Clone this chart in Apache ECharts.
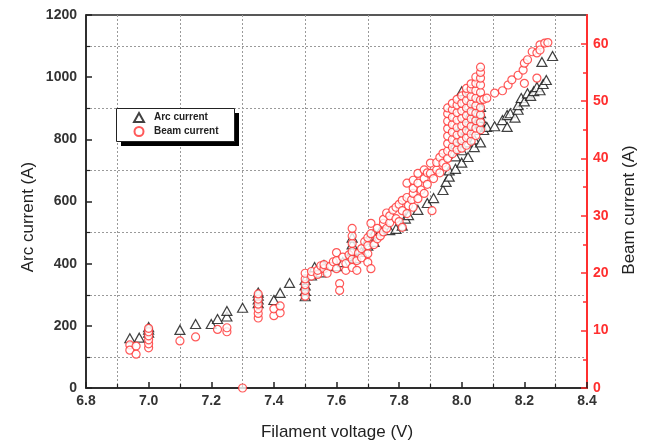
<!DOCTYPE html>
<html><head><meta charset="utf-8">
<script src="https://cdn.jsdelivr.net/npm/echarts@6/dist/echarts.min.js"></script>
<style>html,body{margin:0;padding:0;background:#fff}#c{width:648px;height:444px}</style>
</head><body><div id="c"></div>
<script>
// Axis ranges / ticks
const xRange = [6.8, 8.4], xStep = 0.2;
const arcRange = [0, 1200], arcStep = 200;
const beamRange = [0, 65];
const beamTickLabels = [0, 10, 20, 30, 40, 50, 60];
const beamMinorTicks = [5, 15, 25, 35, 45, 55];

// Arc current (A) vs filament voltage (V)
const arcLow = [[6.94,160],[6.97,162],[7.0,178],[7.0,188],[7.0,196],[7.1,187],[7.15,206],[7.2,206],[7.22,222],[7.25,230],[7.25,248],[7.3,258],[7.35,273],[7.35,285],[7.35,297],[7.35,307],[7.4,283],[7.42,306],[7.45,338]];
const arcMid = [[7.5,295],[7.5,312],[7.5,330],[7.5,348],[7.52,362],[7.53,389],[7.55,372],[7.56,396],[7.6,392],[7.62,405],[7.64,425],[7.65,440],[7.65,462],[7.65,484],[7.66,418],[7.68,438],[7.7,458],[7.7,478],[7.72,470],[7.72,498],[7.74,505],[7.77,508],[7.79,512],[7.81,522],[7.82,545],[7.83,556],[7.86,573],[7.89,595],[7.91,611],[7.94,637],[7.95,663]];
const arcHigh = [[7.96,680],[7.96,700],[7.98,705],[7.98,745],[7.98,785],[8.0,725],[8.0,765],[8.0,805],[8.0,845],[8.0,955],[8.02,743],[8.02,790],[8.02,830],[8.02,870],[8.02,910],[8.04,775],[8.04,800],[8.04,830],[8.05,860],[8.05,890],[8.05,920],[8.06,790],[8.06,852],[8.06,869],[8.06,884],[8.06,904],[8.07,830],[8.08,840],[8.105,842],[8.13,862],[8.145,840],[8.145,878],[8.155,884],[8.17,870],[8.18,895],[8.18,910],[8.19,933],[8.2,922],[8.21,948],[8.22,940],[8.23,955],[8.24,968],[8.25,958],[8.26,978],[8.27,991],[8.256,1049],[8.29,1068]];

// Beam current (A) vs filament voltage (V)
const beamLow = [[6.94,7.5],[6.94,6.6],[6.96,7.3],[6.96,5.9],[7.0,7.0],[7.0,7.7],[7.0,8.4],[7.0,9.1],[7.0,9.8],[7.0,10.4],[7.1,8.2],[7.15,8.9],[7.22,10.2],[7.25,9.8],[7.25,10.5],[7.3,0],[7.35,12.2],[7.35,13.0],[7.35,13.8],[7.35,14.6],[7.35,15.5],[7.35,16.4],[7.4,12.6],[7.4,13.8],[7.42,13.1],[7.42,14.3]];
const beamMid = [[7.5,16.0],[7.5,17.0],[7.5,18.0],[7.5,19.0],[7.5,20.0],[7.52,19.5],[7.52,20.3],[7.54,19.8],[7.54,20.5],[7.55,21.3],[7.56,20.8],[7.56,21.5],[7.57,20.0],[7.58,21.2],[7.59,22.0],[7.6,20.8],[7.6,22.2],[7.6,23.6],[7.61,18.2],[7.61,17.0],[7.62,22.8],[7.63,20.5],[7.63,21.7],[7.64,23.2],[7.65,21.0],[7.65,22.4],[7.65,23.8],[7.65,25.2],[7.65,26.5],[7.65,27.8],[7.665,20.5],[7.665,22.2],[7.67,23.5],[7.68,22.7],[7.68,24.3],[7.69,25.5],[7.7,21.9],[7.7,23.4],[7.7,24.8],[7.7,26.2],[7.71,20.8],[7.71,26.9],[7.71,28.7],[7.72,25.0],[7.73,26.0],[7.73,27.8],[7.74,26.5],[7.75,27.2],[7.75,28.7],[7.75,29.4],[7.76,27.8],[7.76,30.5],[7.77,28.8],[7.77,30.0],[7.78,31.0],[7.79,29.5],[7.79,31.5],[7.8,29.0],[7.8,32.0],[7.81,28.0],[7.81,30.9],[7.81,32.7],[7.825,30.4],[7.825,33.2],[7.825,35.7],[7.83,31.8],[7.84,32.8],[7.845,31.5],[7.845,33.9],[7.845,34.8],[7.845,36.2],[7.86,33.0],[7.86,35.7],[7.86,37.4],[7.87,34.5],[7.88,33.9],[7.88,36.5],[7.88,38.0],[7.89,35.5],[7.89,37.5],[7.9,37.4],[7.9,39.2],[7.905,30.9],[7.91,36.5],[7.92,38.0],[7.92,39.3],[7.93,37.5],[7.93,40.2],[7.94,39.2],[7.94,40.9],[7.95,38.5]];
const beamHigh = [[7.955,40.0],[7.955,41.3],[7.955,42.6],[7.955,43.9],[7.955,45.2],[7.955,46.5],[7.955,47.8],[7.955,48.8],
[7.97,40.8],[7.97,42.0],[7.97,43.3],[7.97,44.6],[7.97,45.9],[7.97,47.2],[7.97,48.5],[7.97,49.6],
[7.985,41.5],[7.985,42.8],[7.985,44.1],[7.985,45.4],[7.985,46.7],[7.985,48.0],[7.985,49.3],[7.985,50.3],
[8.0,41.8],[8.0,43.1],[8.0,44.4],[8.0,45.7],[8.0,47.0],[8.0,48.3],[8.0,49.6],[8.0,50.9],
[8.015,42.3],[8.015,43.6],[8.015,44.9],[8.015,46.2],[8.015,47.5],[8.015,48.8],[8.015,50.1],[8.015,51.4],[8.015,52.2],
[8.03,43.0],[8.03,44.3],[8.03,45.6],[8.03,46.9],[8.03,48.2],[8.03,49.5],[8.03,50.8],[8.03,52.1],[8.03,53.0],
[8.045,44.0],[8.045,45.3],[8.045,46.6],[8.045,47.9],[8.045,49.2],[8.045,50.5],[8.045,51.8],[8.045,53.1],[8.045,54.2],
[8.06,45.0],[8.06,46.3],[8.06,47.6],[8.06,48.9],[8.06,50.2],[8.06,51.5],[8.06,52.8],[8.06,54.0],[8.06,55.0],[8.06,55.9],
[8.07,50.3],[8.08,50.5],[8.105,51.4],[8.13,51.8],[8.148,52.8],[8.16,53.7],[8.18,54.5],[8.196,55.4],[8.2,56.6],[8.21,57.2],[8.225,58.6],[8.24,58.4],[8.25,59.8],[8.25,58.9],[8.265,60.1],[8.275,60.2],[8.2,53.1],[8.24,54.0]];

const arcData = arcLow.concat(arcMid, arcHigh);
const beamData = beamLow.concat(beamMid, beamHigh);

const RED = '#ff2f2f', INK = '#222';
const FONT = '"Liberation Sans", Arial, sans-serif';
const chart = echarts.init(document.getElementById('c'), null, {renderer: 'canvas'});
const dotted = {show: true, lineStyle: {color: '#9a9a9a', type: [2, 2], width: 1}};
chart.setOption({
  animation: false,
  textStyle: {fontFamily: FONT},
  grid: {left: 86, right: 61, top: 15, bottom: 56, show: true, borderColor: INK, borderWidth: 1.5, backgroundColor: 'transparent'},
  legend: {
    orient: 'vertical', left: 116, top: 108,
    padding: [4, 16, 4, 17], itemGap: 3, itemWidth: 10, itemHeight: 9,
    backgroundColor: 'transparent', borderWidth: 0,
    textStyle: {fontSize: 10, color: INK, fontWeight: 'bold', fontFamily: FONT, padding: [0, 0, 0, 5]},
    selectedMode: false,
    data: ['Arc current', 'Beam current']
  },
  xAxis: {
    type: 'value', min: xRange[0], max: xRange[1], interval: xStep,
    axisLine: {onZero: false, lineStyle: {color: INK, width: 1.5}},
    axisTick: {inside: true, length: 6, lineStyle: {color: INK, width: 1.5}},
    minorTick: {show: true, splitNumber: 2, length: 4, lineStyle: {color: INK, width: 1.2}},
    splitLine: {show: false},
    minorSplitLine: dotted,
    axisLabel: {formatter: v => v.toFixed(1), margin: 6, fontSize: 14, color: '#333', fontWeight: 'bold'}
  },
  yAxis: [{
    type: 'value', min: arcRange[0], max: arcRange[1], interval: arcStep, position: 'left',
    axisLine: {show: true, onZero: false, lineStyle: {color: INK, width: 1.5}},
    axisTick: {show: true, inside: true, length: 6, lineStyle: {color: INK, width: 1.5}},
    minorTick: {show: true, splitNumber: 2, length: 4, lineStyle: {color: INK, width: 1.2}},
    splitLine: {show: false},
    minorSplitLine: dotted,
    axisLabel: {formatter: v => String(v), margin: 9, fontSize: 14, color: '#333', fontWeight: 'bold'}
  }, {
    type: 'value', min: beamRange[0], max: beamRange[1], position: 'right',
    axisLine: {show: true, onZero: false, lineStyle: {color: RED, width: 2}},
    axisTick: {show: true, inside: true, length: 6, customValues: beamTickLabels, lineStyle: {color: RED, width: 1.5}},
    splitLine: {show: false},
    axisLabel: {customValues: beamTickLabels, margin: 6, fontSize: 14, color: RED, fontWeight: 'bold'}
  }, {
    type: 'value', min: beamRange[0], max: beamRange[1], position: 'right',
    axisLine: {show: false},
    axisTick: {show: true, inside: true, length: 4, customValues: beamMinorTicks, lineStyle: {color: RED, width: 1.5}},
    splitLine: {show: false},
    axisLabel: {show: false}
  }],
  graphic: [
    {type: 'rect', z: 3, silent: true, shape: {x: 121, y: 113, width: 118, height: 33}, style: {fill: '#000'}},
    {type: 'rect', z: 3, silent: true, shape: {x: 116.5, y: 108.5, width: 118, height: 33}, style: {fill: '#fff', stroke: INK, lineWidth: 1}},
    {type: 'text', x: 28, y: 217, rotation: Math.PI / 2, silent: true,
     style: {text: 'Arc current (A)', font: '17px ' + FONT, fill: INK, align: 'center', verticalAlign: 'middle'}},
    {type: 'text', x: 629, y: 210, rotation: Math.PI / 2, silent: true,
     style: {text: 'Beam current (A)', font: '17px ' + FONT, fill: INK, align: 'center', verticalAlign: 'middle'}},
    {type: 'text', x: 337, y: 432, silent: true,
     style: {text: 'Filament voltage (V)', font: '17px ' + FONT, fill: INK, align: 'center', verticalAlign: 'middle'}}
  ],
  series: [{
    type: 'scatter', name: 'Arc current', yAxisIndex: 0, symbol: 'triangle', symbolSize: [10, 9],
    itemStyle: {color: '#fff', borderColor: '#111', borderWidth: 1.2},
    emphasis: {disabled: true}, data: arcData
  }, {
    type: 'scatter', name: 'Beam current', yAxisIndex: 1, symbol: 'circle', symbolSize: 8,
    itemStyle: {color: '#fff', borderColor: RED, borderWidth: 1.2},
    emphasis: {disabled: true}, data: beamData
  }]
});
</script></body></html>
